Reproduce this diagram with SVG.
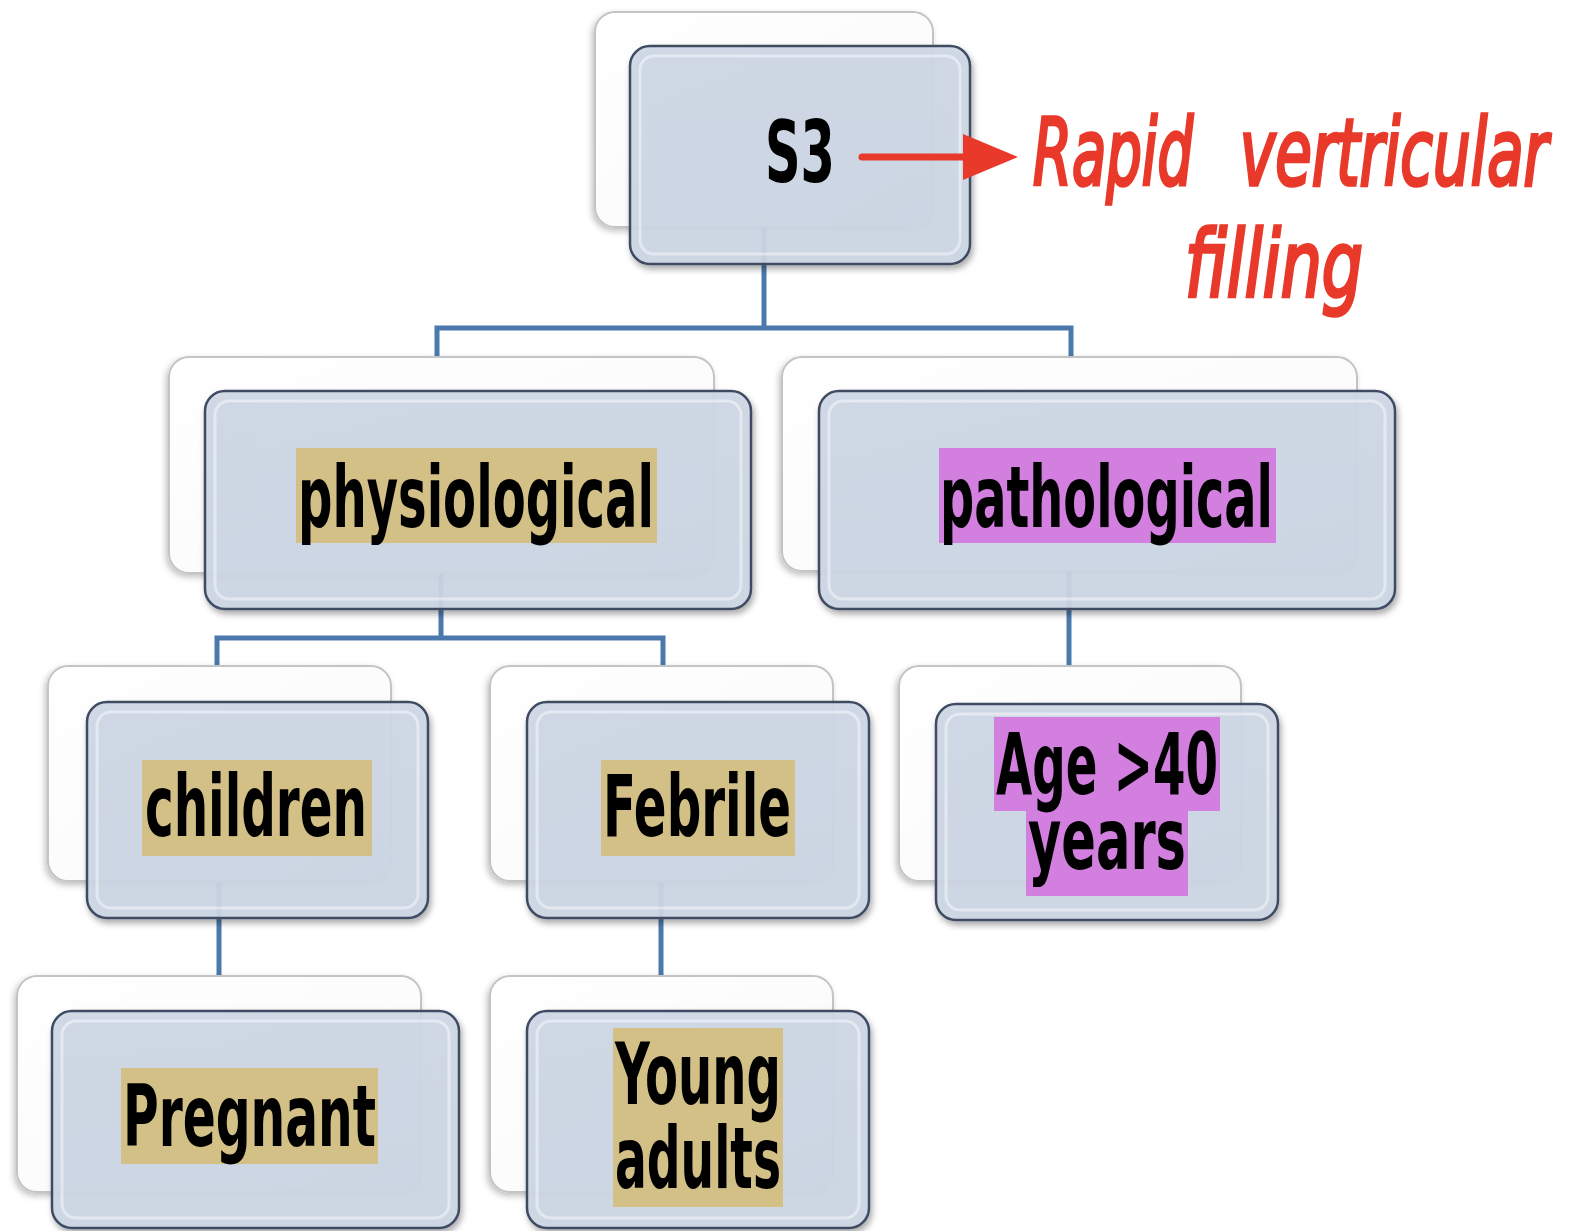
<svg xmlns="http://www.w3.org/2000/svg" width="1581" height="1231" viewBox="0 0 1581 1231">
<style>
.back{fill:url(#gBack);stroke:#c4c4c4;stroke-width:2;filter:url(#shB)}
.front{fill:url(#gFront);stroke:#3f4c63;stroke-width:2.5;filter:url(#shF);fill-opacity:.93}
.inner{fill:none;stroke:#ffffff;stroke-opacity:.45;stroke-width:3}
.lbl{font-family:"DejaVu Sans Condensed","DejaVu Sans",sans-serif;font-weight:bold;font-size:85px;fill:#000}
.hlY{fill:#d2c087}
.hlM{fill:#d27fdf}
.conn{stroke:#4b79ae;stroke-width:5;fill:none}
.hand{font-family:"DejaVu Sans Condensed","DejaVu Sans",sans-serif;font-style:italic;font-size:66px;fill:#e8392a;stroke:#e8392a;stroke-width:2.5}
</style>
<defs>
<linearGradient id="gFront" x1="0" y1="0" x2="0" y2="1">
<stop offset="0" stop-color="#cfd8e6"/><stop offset="1" stop-color="#cdd6e4"/>
</linearGradient>
<linearGradient id="gBack" x1="0" y1="0" x2="1" y2="1">
<stop offset="0" stop-color="#ffffff"/><stop offset="0.8" stop-color="#fafafa"/><stop offset="1" stop-color="#d9d9d9"/>
</linearGradient>
<filter id="shF" x="-10%" y="-10%" width="120%" height="130%">
<feDropShadow dx="2" dy="4" stdDeviation="3" flood-color="#000" flood-opacity="0.35"/>
</filter>
<filter id="shB" x="-10%" y="-10%" width="120%" height="130%">
<feDropShadow dx="-2" dy="3" stdDeviation="3" flood-color="#000" flood-opacity="0.25"/>
</filter>
</defs>
<rect width="1581" height="1231" fill="#ffffff"/>

<g id="connectors">
<path class="conn" d="M764 227V328M437 357V328H1071V357"/>
<path class="conn" d="M441 573V638H217V666M441 638H663V666"/>
<path class="conn" d="M1069 571V666"/>
<path class="conn" d="M219 881V976"/>
<path class="conn" d="M661 881V976"/>
</g>

<g id="node-s3">
<rect class="back" x="595" y="12" width="338" height="215" rx="20"/>
<rect class="front" x="630" y="46" width="340" height="218" rx="20"/>
<rect class="inner" x="640" y="56" width="320" height="198" rx="14"/>
<text class="lbl" x="800" y="182" text-anchor="middle" textLength="70" lengthAdjust="spacingAndGlyphs">S3</text>
</g>

<g id="node-physiological">
<rect class="back" x="169" y="357" width="545" height="216" rx="20"/>
<rect class="front" x="205" y="391" width="546" height="218" rx="20"/>
<rect class="inner" x="215" y="401" width="526" height="198" rx="14"/>
<rect class="hlY" x="296" y="448" width="361" height="95"/>
<text class="lbl" x="298" y="527" textLength="356" lengthAdjust="spacingAndGlyphs">physiological</text>
</g>

<g id="node-pathological">
<rect class="back" x="782" y="357" width="575" height="214" rx="20"/>
<rect class="front" x="819" y="391" width="576" height="218" rx="20"/>
<rect class="inner" x="829" y="401" width="556" height="198" rx="14"/>
<rect class="hlM" x="939" y="448" width="337" height="95"/>
<text class="lbl" x="940" y="527" textLength="333" lengthAdjust="spacingAndGlyphs">pathological</text>
</g>

<g id="node-children">
<rect class="back" x="48" y="666" width="343" height="215" rx="20"/>
<rect class="front" x="87" y="702" width="341" height="216" rx="20"/>
<rect class="inner" x="97" y="712" width="321" height="196" rx="14"/>
<rect class="hlY" x="142" y="760" width="230" height="96"/>
<text class="lbl" x="145" y="836" textLength="222" lengthAdjust="spacingAndGlyphs">children</text>
</g>

<g id="node-febrile">
<rect class="back" x="490" y="666" width="343" height="215" rx="20"/>
<rect class="front" x="527" y="702" width="342" height="216" rx="20"/>
<rect class="inner" x="537" y="712" width="322" height="196" rx="14"/>
<rect class="hlY" x="601" y="760" width="194" height="96"/>
<text class="lbl" x="603" y="836" textLength="188" lengthAdjust="spacingAndGlyphs">Febrile</text>
</g>

<g id="node-age">
<rect class="back" x="899" y="666" width="342" height="215" rx="20"/>
<rect class="front" x="936" y="704" width="342" height="216" rx="20"/>
<rect class="inner" x="946" y="714" width="322" height="196" rx="14"/>
<rect class="hlM" x="994" y="717" width="226" height="94"/>
<rect class="hlM" x="1026" y="811" width="162" height="85"/>
<text class="lbl" x="996" y="794" textLength="222" lengthAdjust="spacingAndGlyphs">Age &gt;40</text>
<text class="lbl" x="1028" y="869" textLength="158" lengthAdjust="spacingAndGlyphs">years</text>
</g>

<g id="node-pregnant">
<rect class="back" x="17" y="976" width="404" height="216" rx="20"/>
<rect class="front" x="52" y="1011" width="407" height="217" rx="20"/>
<rect class="inner" x="62" y="1021" width="387" height="197" rx="14"/>
<rect class="hlY" x="121" y="1068" width="257" height="96"/>
<text class="lbl" x="123" y="1146" textLength="253" lengthAdjust="spacingAndGlyphs">Pregnant</text>
</g>

<g id="node-young">
<rect class="back" x="490" y="976" width="343" height="216" rx="20"/>
<rect class="front" x="527" y="1011" width="342" height="217" rx="20"/>
<rect class="inner" x="537" y="1021" width="322" height="197" rx="14"/>
<rect class="hlY" x="613" y="1028" width="170" height="93"/>
<rect class="hlY" x="613" y="1121" width="170" height="86"/>
<text class="lbl" x="615" y="1104" textLength="166" lengthAdjust="spacingAndGlyphs">Young</text>
<text class="lbl" x="615" y="1188" textLength="166" lengthAdjust="spacingAndGlyphs">adults</text>
</g>

<g id="annotation">
<line x1="862" y1="157" x2="968" y2="157" stroke="#e8392a" stroke-width="7" stroke-linecap="round"/>
<polygon points="963,134 1018,157 963,180" fill="#e8392a"/>
<text class="hand" transform="translate(1033,185) scale(1,1.4)" textLength="160" lengthAdjust="spacingAndGlyphs">Rapid</text>
<text class="hand" transform="translate(1240,185) scale(1,1.4)" textLength="308" lengthAdjust="spacingAndGlyphs">vertricular</text>
<text class="hand" transform="translate(1185,297) scale(1,1.4)" textLength="178" lengthAdjust="spacingAndGlyphs">filling</text>
</g>
</svg>
